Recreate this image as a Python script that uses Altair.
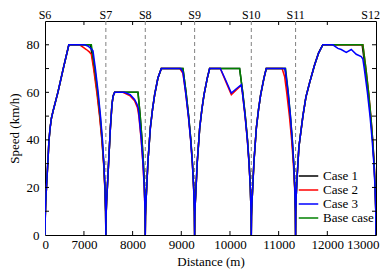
import altair as alt
import pandas as pd

# ---------------- data ----------------
series_names = ["Case 1", "Case 2", "Case 3", "Base case"]
series_colors = ["#000000", "#ff0000", "#0000ff", "#008000"]

station_names = ["S6", "S7", "S8", "S9", "S10", "S11"]
station_pos = [6200, 7450, 8260, 9274, 10438, 11348]
end_station_name = ["S12"]
end_station_pos = [13000]

x_tick_values = [6200, 7000, 8000, 9000, 10000, 11000, 12000, 13000]
y_tick_values = [0, 20, 40, 60, 80]
y_minor_ticks = [10, 20, 30, 40, 50, 60, 70, 80]
x_minor_ticks = [7000, 8000, 9000, 10000, 11000, 12000]

# acceleration parts (shared by all cases)
rise1_d = [6200, 6206, 6215, 6230, 6249, 6265, 6282, 6305, 6331, 6364, 6465, 6575, 6690]
rise1_v = [0, 8, 14, 20, 27, 33, 40, 45, 49, 52, 60, 70, 80]
rise2_d = [7450, 7455, 7465, 7481, 7508, 7543, 7576, 7600, 7631]
rise2_v = [0, 8, 14, 20, 31, 45, 55, 58.5, 60]
rise3_d = [8260, 8264, 8272, 8282, 8315, 8364, 8410, 8453, 8520, 8590]
rise3_v = [0, 8, 13, 17, 31, 45, 53, 59, 66, 70]
rise4_d = [9274, 9278, 9286, 9296, 9329, 9378, 9424, 9467, 9534, 9582]
rise4_v = [0, 8, 13, 17, 31, 45, 53, 59, 66, 70]
rise5_d = [10438, 10442, 10450, 10460, 10493, 10542, 10588, 10631, 10698, 10746]
rise5_v = [0, 8, 13, 17, 31, 45, 53, 59, 66, 70]
rise6_d = [11348, 11352, 11360, 11375, 11416, 11498, 11560, 11635, 11738, 11820, 11908]
rise6_v = [0, 10, 16, 23, 37, 50, 58, 64, 71.5, 76.5, 80]

dec80 = [80, 70, 60, 50, 40, 30, 20, 10, 0]
dec70 = [70, 60, 50, 40, 30, 20, 10, 0]
dec60 = [60, 55, 50, 40, 30, 20, 10, 0]

# Base case: cruise end + braking
base_tails = [
    ([7152, 7223, 7283, 7334, 7376, 7408, 7431, 7445, 7450], dec80),
    ([8110, 8134, 8156, 8193, 8222, 8243, 8256, 8260], dec60),
    ([9034, 9098, 9151, 9196, 9230, 9254, 9269, 9274], dec70),
    ([10198, 10262, 10315, 10360, 10394, 10418, 10433, 10438], dec70),
    ([11142, 11197, 11243, 11281, 11310, 11331, 11344, 11348], dec70),
    ([12730, 12793, 12848, 12894, 12932, 12962, 12983, 12996, 13000], dec80),
]

case1_tails = [
    ([7135, 7209, 7273, 7327, 7371, 7406, 7430, 7445, 7450], dec80),
    ([8110, 8134, 8156, 8193, 8222, 8243, 8256, 8260], dec60),
    ([9034, 9098, 9151, 9196, 9230, 9254, 9269, 9274], dec70),
    ([10198, 10262, 10315, 10360, 10394, 10418, 10433, 10438], dec70),
    ([11130, 11188, 11237, 11277, 11308, 11330, 11344, 11348], dec70),
    ([12715, 12782, 12840, 12889, 12929, 12960, 12982, 12996, 13000], dec80),
]

case2_tails = [
    ([6913, 6980, 7050, 7110, 7152, 7198, 7264, 7321, 7368, 7404, 7429, 7445, 7450],
     [80, 79, 78, 77, 76, 70, 60, 50, 40, 30, 20, 10, 0]),
    ([7800, 7950, 8040, 8100, 8129, 8176, 8212, 8239, 8255, 8260],
     [60, 58.5, 56.5, 53.5, 50, 40, 30, 20, 10, 0]),
    ([8970, 9034, 9089, 9146, 9192, 9228, 9253, 9269, 9274],
     [70, 68, 60, 50, 40, 30, 20, 10, 0]),
    ([9802, 9915, 10028, 10130, 10233, 10255, 10311, 10357, 10392, 10418, 10433, 10438],
     [70, 64.5, 59, 61, 63, 60, 50, 40, 30, 20, 10, 0]),
    ([11071, 11122, 11165, 11221, 11267, 11302, 11328, 11343, 11348],
     [70, 66.7, 60, 50, 40, 30, 20, 10, 0]),
    ([12730, 12793, 12848, 12894, 12932, 12962, 12983, 12996, 13000], dec80),
]

case3_tails = [
    ([7015, 7080, 7140, 7186, 7235, 7292, 7340, 7380, 7410, 7432, 7446, 7450],
     [80, 79.5, 78.5, 77.5, 70, 60, 50, 40, 30, 20, 10, 0]),
    ([7831, 7950, 8040, 8090, 8115, 8133, 8179, 8214, 8240, 8255, 8260],
     [60, 59, 57, 55, 53.5, 50, 40, 30, 20, 10, 0]),
    ([8990, 9034, 9089, 9146, 9192, 9228, 9253, 9269, 9274],
     [70, 68.5, 60, 50, 40, 30, 20, 10, 0]),
    ([9802, 9915, 10028, 10130, 10233, 10255, 10311, 10357, 10392, 10418, 10433, 10438],
     [70, 65, 59.7, 61.5, 63.2, 60, 50, 40, 30, 20, 10, 0]),
    ([11135, 11195, 11242, 11280, 11310, 11331, 11344, 11348],
     [70, 60, 50, 40, 30, 20, 10, 0]),
    ([12114, 12217, 12286, 12389, 12492, 12594, 12697, 12730, 12759, 12823, 12877,
      12921, 12956, 12980, 12995, 13000],
     [80, 78.5, 78, 76.8, 78, 76, 75, 74, 70, 60, 50, 40, 30, 20, 10, 0]),
]

rises = [(rise1_d, rise1_v), (rise2_d, rise2_v), (rise3_d, rise3_v),
         (rise4_d, rise4_v), (rise5_d, rise5_v), (rise6_d, rise6_v)]


def build(name, tails):
    rows = []
    k = 0
    for (rd, rv), (td, tv) in zip(rises, tails):
        for d, v in zip(list(rd) + list(td), list(rv) + list(tv)):
            rows.append({"series": name, "distance": d, "speed": v, "order": k})
            k += 1
    return rows


rows = []
rows += build("Case 1", case1_tails)
rows += build("Case 2", case2_tails)
rows += build("Base case", base_tails)
rows += build("Case 3", case3_tails)
df = pd.DataFrame(rows)

stations = pd.DataFrame({"name": station_names, "pos": station_pos})
end_station = pd.DataFrame({"name": end_station_name, "pos": end_station_pos})
inner_stations = stations.iloc[1:6]

# ---------------- chart ----------------
FONT = "Liberation Serif, DejaVu Serif, serif"
W, H = 331, 214

xscale = alt.Scale(domain=[6200, 13000], nice=False, zero=False)
yscale = alt.Scale(domain=[0, 90], nice=False)
cscale = alt.Scale(domain=series_names, range=series_colors)

xaxis = alt.Axis(values=x_tick_values, ticks=False, grid=False, domain=False,
                 labelOverlap=False, labelFlush=True, labelFlushOffset=3,
                 labelExpr="datum.value == 6200 ? '0' : format(datum.value, 'd')",
                 labelFont=FONT, labelFontSize=13, labelColor="black", labelPadding=3,
                 title="Distance (m)", titleFont=FONT, titleFontSize=13,
                 titleFontWeight="normal", titleColor="black", titlePadding=4)
yaxis = alt.Axis(values=y_tick_values, ticks=False, grid=False, domain=False,
                 labelOverlap=False, labelFlush=False,
                 labelFont=FONT, labelFontSize=13, labelColor="black", labelPadding=6,
                 title="Speed (km/h)", titleFont=FONT, titleFontSize=13,
                 titleFontWeight="normal", titleColor="black", titlePadding=5)

layers = []
# dashed station lines
layers.append(
    alt.Chart(inner_stations).mark_rule(color="#808080", strokeDash=[4, 3], strokeWidth=1)
    .encode(x=alt.X("pos:Q", scale=xscale, axis=xaxis),
            y=alt.value(0), y2=alt.value(H))
)

for name in ["Case 1", "Case 2", "Base case", "Case 3"]:
    layers.append(
        alt.Chart(df).transform_filter(alt.datum.series == name)
        .mark_line(strokeWidth=1.5, clip=True)
        .encode(
            x=alt.X("distance:Q", scale=xscale, axis=xaxis),
            y=alt.Y("speed:Q", scale=yscale, axis=yaxis),
            color=alt.Color("series:N", scale=cscale,
                            legend=alt.Legend(title=None, orient="none", legendX=253,
                                              legendY=148, padding=0,
                                              labelFont=FONT, labelFontSize=13,
                                              labelColor="black", symbolType="stroke",
                                              symbolSize=380, symbolStrokeWidth=1.5,
                                              clipHeight=14, rowPadding=0, labelOffset=4)),
            order="order:Q",
        )
    )

# station labels above
layers.append(
    alt.Chart(stations).mark_text(font=FONT, fontSize=12, color="black", baseline="alphabetic")
    .encode(x=alt.X("pos:Q", scale=xscale), y=alt.value(-2), text="name:N")
)
layers.append(
    alt.Chart(end_station).mark_text(font=FONT, fontSize=12, color="black",
                                     baseline="alphabetic", align="right", dx=4)
    .encode(x=alt.X("pos:Q", scale=xscale), y=alt.value(-2), text="name:N")
)

# inward ticks
xt = pd.DataFrame({"v": x_minor_ticks})
yt = pd.DataFrame({"v": y_minor_ticks})
layers.append(alt.Chart(xt).mark_rule(color="black").encode(
    x=alt.X("v:Q", scale=xscale), y=alt.value(H), y2=alt.value(H - 4)))
layers.append(alt.Chart(xt).mark_rule(color="black").encode(
    x=alt.X("v:Q", scale=xscale), y=alt.value(0), y2=alt.value(4)))
layers.append(alt.Chart(yt).mark_rule(color="black").encode(
    y=alt.Y("v:Q", scale=yscale), x=alt.value(0), x2=alt.value(4)))
layers.append(alt.Chart(yt).mark_rule(color="black").encode(
    y=alt.Y("v:Q", scale=yscale), x=alt.value(W), x2=alt.value(W - 4)))

chart = alt.layer(*layers).properties(
    width=W, height=H,
    autosize=alt.AutoSizeParams(type="none"),
    padding={"left": 37, "top": 13, "right": 4, "bottom": 34},
).configure_view(stroke="black", strokeWidth=1)

chart.save("out.html", embed_options={"renderer": "svg", "actions": False})
